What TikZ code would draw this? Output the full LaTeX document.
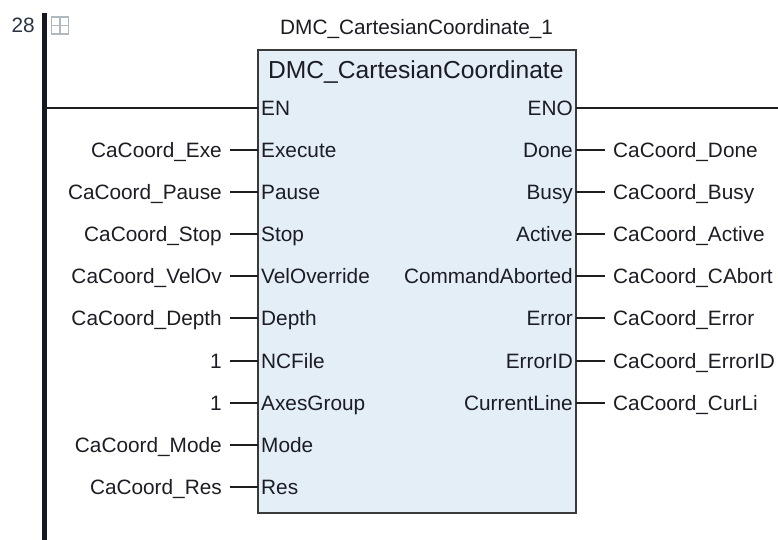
\documentclass[tikz,border=0pt]{standalone}
\usepackage{fontspec}
\setmainfont{Liberation Sans}
\definecolor{textc}{HTML}{1C1C24}
\definecolor{borderc}{HTML}{3A3A3A}
\definecolor{fbfill}{HTML}{E4EEF7}
\definecolor{wirec}{HTML}{1E1E1E}
\definecolor{railc}{HTML}{151A22}
\definecolor{gridc}{HTML}{B0B8C2}
\definecolor{numc}{HTML}{2B3444}
\begin{document}
\begin{tikzpicture}[x=1bp,y=-1bp,
  txt/.style={font=\fontsize{20.8bp}{24bp}\selectfont, text=textc, inner ysep=0pt, text height=15bp, text depth=0pt},
  inlbl/.style={txt, anchor=east, inner xsep=8bp},
  outlbl/.style={txt, anchor=west, inner xsep=8bp},
  pinL/.style={txt, anchor=west, inner xsep=0pt},
  pinR/.style={txt, anchor=east, inner xsep=0pt},
  wire/.style={draw=wirec, line width=1.3bp},
  fbox/.style={draw=borderc, fill=fbfill, line width=1.8bp, minimum width=318bp, minimum height=463bp, inner sep=0pt}]
\useasboundingbox (0,0) rectangle (778,540);
% rail
\coordinate (railtop) at (44.5,13);
\coordinate (railbot) at (44.5,540);
\draw[draw=railc, line width=4.5bp] (railtop) -- (railbot);
% rung number and icon
\node[txt, anchor=east, inner xsep=0pt, text=numc] (num) at (35,25) {28};
\node[draw=gridc, line width=1.3bp, minimum size=17bp, inner sep=0pt] (grid) at (60,25.5) {};
\draw[draw=gridc, line width=1.3bp] (grid.north) -- (grid.south) (grid.west) -- (grid.east);
% block
\node[fbox] (blk) at (417,281.5) {};
\node[txt, anchor=west, inner xsep=0pt] (inst) at (280,27.5) {DMC\_CartesianCoordinate\_1};
\node[anchor=west, font=\fontsize{24.6bp}{28bp}\selectfont, text=textc, inner sep=0pt, text height=17.6bp, text depth=0pt] (ttl) at (268,70) {DMC\_CartesianCoordinate};
% EN / ENO
\coordinate (enrail) at (44.5,108);
\coordinate (enpin) at (258,108);
\coordinate (enopin) at (576,108);
\coordinate (enoend) at (778,108);
\node[pinL] (pEN) at (261,108) {EN};
\node[pinR] (pENO) at (573,108) {ENO};
\draw[wire] (enrail) -- (enpin);
\draw[wire] (enopin) -- (enoend);
% inputs
\foreach \lbl/\pin/\y/\n in {CaCoord\_Exe/Execute/150/1, CaCoord\_Pause/Pause/192/2, CaCoord\_Stop/Stop/234/3, CaCoord\_VelOv/VelOverride/276/4, CaCoord\_Depth/Depth/318/5, 1/NCFile/361/6, 1/AxesGroup/403/7, CaCoord\_Mode/Mode/445/8, CaCoord\_Res/Res/487/9}{
  \coordinate (pi\n) at (258,\y);
  \node[inlbl] (li\n) at (230,\y) {\lbl};
  \node[pinL] (ni\n) at (261,\y) {\pin};
  \draw[wire] (li\n) -- (pi\n);
}
% outputs
\foreach \pin/\lbl/\y/\n in {Done/CaCoord\_Done/150/1, Busy/CaCoord\_Busy/192/2, Active/CaCoord\_Active/234/3, CommandAborted/CaCoord\_CAbort/276/4, Error/CaCoord\_Error/318/5, ErrorID/CaCoord\_ErrorID/361/6, CurrentLine/CaCoord\_CurLi/403/7}{
  \coordinate (po\n) at (576,\y);
  \node[outlbl] (lo\n) at (605,\y) {\lbl};
  \node[pinR] (no\n) at (573,\y) {\pin};
  \draw[wire] (po\n) -- (lo\n);
}
\end{tikzpicture}
\end{document}
